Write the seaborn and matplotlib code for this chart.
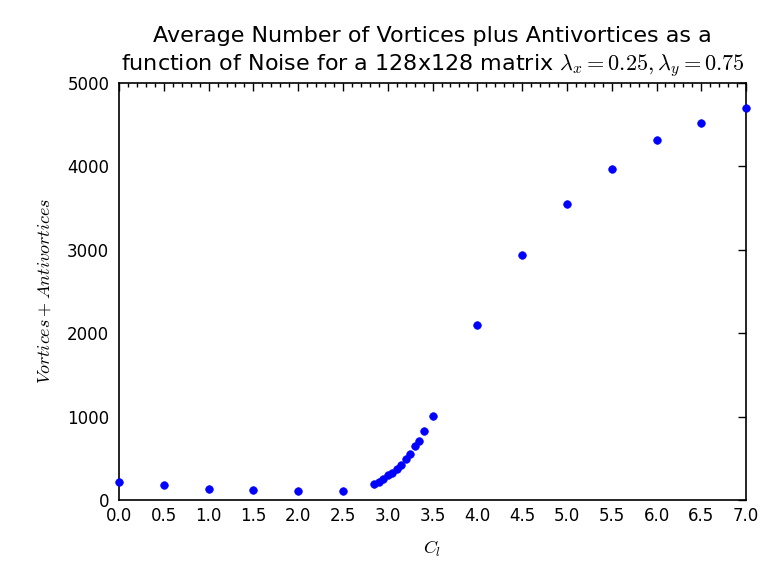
import matplotlib
matplotlib.use("Agg")
import matplotlib.pyplot as plt
import seaborn as sns
import pandas as pd
from matplotlib.ticker import MultipleLocator

noise = [0.0, 0.5, 1.0, 1.5, 2.0, 2.5, 2.85, 2.9, 2.95, 3.0, 3.05, 3.1, 3.15,
         3.2, 3.25, 3.3, 3.35, 3.4, 3.5, 4.0, 4.5, 5.0, 5.5, 6.0, 6.5, 7.0]
vortices = [211, 179, 131, 119, 104, 104, 195, 218, 247, 295, 326, 374, 422,
            489, 553, 648, 712, 823, 1002, 2092, 2934, 3548, 3968, 4307, 4519, 4698]

df = pd.DataFrame({"noise": noise, "vortices": vortices})

sns.set_style("white")
plt.rcParams["font.family"] = ["DejaVu Sans"]
plt.rcParams["mathtext.fontset"] = "cm"
plt.rcParams["text.color"] = "black"
plt.rcParams["axes.labelcolor"] = "black"
plt.rcParams["xtick.color"] = "black"
plt.rcParams["ytick.color"] = "black"

fig = plt.figure(figsize=(7.78, 5.70), dpi=100)
ax = fig.add_axes([0.153, 0.1228, 0.806, 0.7322])

sns.scatterplot(data=df, x="noise", y="vortices", ax=ax, color=(0, 0, 1),
                s=30, edgecolor=(0, 0, 1), linewidth=0.5, clip_on=False, zorder=3)

ax.set_xlim(0, 7)
ax.set_ylim(0, 5000)
ax.xaxis.set_major_locator(MultipleLocator(0.5))
ax.xaxis.set_minor_locator(MultipleLocator(0.1))
ax.yaxis.set_major_locator(MultipleLocator(1000))
ax.tick_params(which="both", direction="in", top=True, right=True,
               labelsize=12, color="black", labelcolor="black", width=1)
ax.tick_params(axis="x", pad=5)
ax.tick_params(axis="y", pad=7)
ax.tick_params(which="major", length=6)
ax.tick_params(which="minor", length=3)
for sp in ax.spines.values():
    sp.set_color("black")
    sp.set_linewidth(1.2)

ax.set_title("Average Number of Vortices plus Antivortices as a\n"
             "function of Noise for a 128x128 matrix $\\lambda_x=0.25,\\lambda_y=0.75$",
             fontsize=16, pad=9, color="black", linespacing=1.3)
ax.set_xlabel("$C_l$", fontsize=13, labelpad=10)
ax.set_ylabel("$Vortices + Antivortices$", fontsize=13, labelpad=10)

fig.savefig("out.png", dpi=100, facecolor="white")
